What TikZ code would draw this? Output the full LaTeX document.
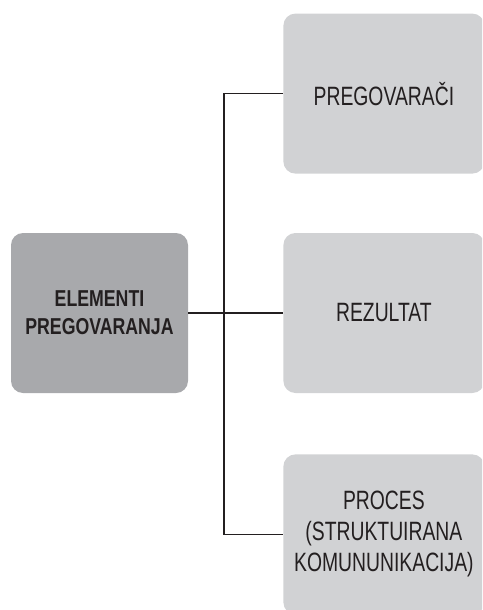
\documentclass[tikz,border=0pt]{standalone}
\usepackage{fontspec}
\setmainfont{Liberation Sans}[FakeStretch=0.73]
\newfontfamily\rootfont{Liberation Sans}[FakeStretch=0.77, BoldFeatures={FakeStretch=0.77}]
\usepackage{xcolor}
\usepackage{tikz}
\usetikzlibrary{positioning}

\definecolor{rootgray}{HTML}{A8A9AC}
\definecolor{leafgray}{HTML}{D1D2D4}
\definecolor{inkdark}{HTML}{231F20}

\begin{document}
\begin{tikzpicture}[
  x=1pt, y=1pt,
  font=\fontsize{26.5}{31}\selectfont,
  box/.style={rounded corners=12pt, align=center, inner sep=2pt, text=inkdark},
  root/.style={box, fill=rootgray, minimum width=177pt, minimum height=160pt,
               font=\rootfont\fontsize{23}{28}\selectfont\bfseries},
  leaf/.style={box, fill=leafgray, minimum width=201pt, minimum height=160pt},
  link/.style={line width=1.2pt, inkdark}
]
\useasboundingbox (0,0) rectangle (482,-610);
\clip (0,0) rectangle (482,-610);
\node[root] (elem) at (99.5,-313) {ELEMENTI\\PREGOVARANJA};
\node[leaf, right=95pt of elem] (rez) {REZULTAT};
\node[leaf, above=59pt of rez] (preg) {PREGOVARAČI};
\node[leaf, below=61pt of rez] (proc) {PROCES\\(STRUKTUIRANA\\KOMUNUNIKACIJA)};
\coordinate (spine) at (224,-313);
\draw[link] (elem) -- (rez);
\draw[link] (preg.west) -| (spine) |- (proc.west);
\end{tikzpicture}
\end{document}
